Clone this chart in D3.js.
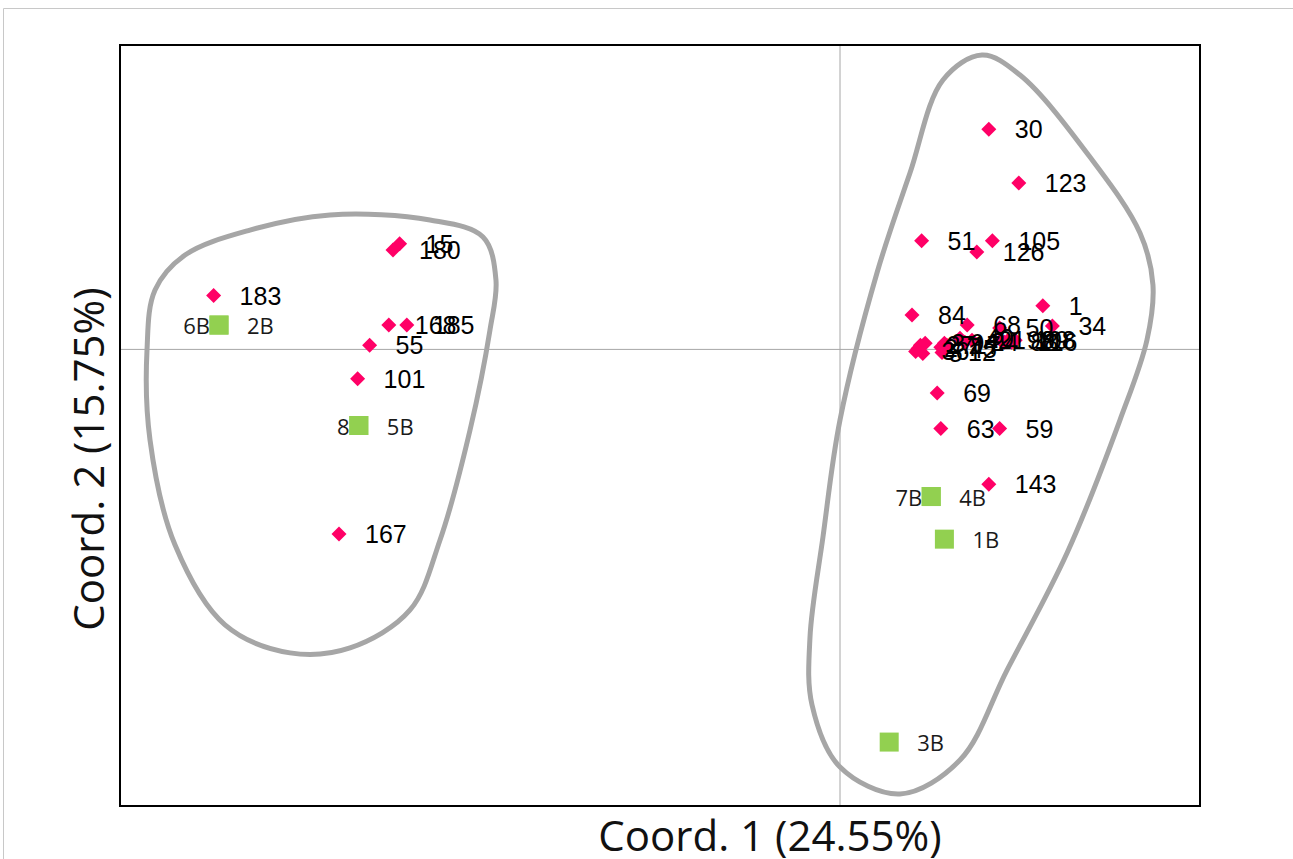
<!DOCTYPE html>
<html lang="en">
<head>
<meta charset="UTF-8">
<title>PCoA</title>
<style>
  html, body { margin: 0; padding: 0; background: #fff; }
  svg { display: block; }
</style>
</head>
<body>
<script src="https://cdn.jsdelivr.net/npm/d3@7"></script>
<script>
// sample points (red diamonds): label, coord1, coord2
var sampleLabels = ["15", "180", "183", "168", "185", "55", "101", "167",
  "30", "123", "51", "105", "126", "1", "34", "84", "69", "63", "59", "143",
  "68", "50", "2", "5", "27", "12", "94", "7", "40", "24", "21", "98", "88", "108", "116", "99", "3", "17", "36", "45"];
var sampleX = [-0.367, -0.3725, -0.522, -0.376, -0.361, -0.392, -0.402, -0.4175,
  0.124, 0.149, 0.068, 0.127, 0.114, 0.169, 0.177, 0.060, 0.081, 0.084, 0.133, 0.124,
  0.106, 0.133, 0.065, 0.069, 0.067, 0.085, 0.087, 0.084, 0.100, 0.104, 0.110, 0.134, 0.137, 0.140, 0.143, 0.146, 0.071, 0.089, 0.063, 0.086];
var sampleY = [0.104, 0.098, 0.053, 0.024, 0.024, 0.004, -0.029, -0.182,
  0.217, 0.164, 0.107, 0.107, 0.096, 0.043, 0.023, 0.034, -0.043, -0.078, -0.078, -0.133,
  0.024, 0.021, 0.001, -0.004, 0.004, -0.003, 0.006, 0.002, 0.011, 0.007, 0.009, 0.009, 0.007, 0.009, 0.007, 0.009, 0.006, 0.004, -0.002, 0.000];

// reference points (green squares): label, side of label, coord1, coord2
var refLabels = ["2B", "6B", "5B", "8B", "4B", "7B", "1B", "3B"];
var refSide = ["right", "left", "right", "hidden", "right", "left", "right", "right"];
var refX = [-0.5175, -0.5175, -0.401, -0.401, 0.076, 0.076, 0.087, 0.041];
var refY = [0.024, 0.024, -0.075, -0.075, -0.145, -0.145, -0.187, -0.387];

// group outlines
var hullLeftX = [-0.425, -0.3417, -0.2975, -0.2867, -0.2917, -0.3083, -0.3333, -0.3583, -0.4083, -0.4583, -0.5125, -0.5542, -0.575, -0.5775, -0.5708, -0.5458, -0.4917];
var hullLeftY = [0.1325, 0.1275, 0.1108, 0.0684, 0.0191, -0.0794, -0.1878, -0.2568, -0.2942, -0.2991, -0.2715, -0.1926, -0.0891, -0.0006, 0.0585, 0.0930, 0.1176];
var hullRightX = [0.1183, 0.15, 0.2083, 0.25, 0.2608, 0.2558, 0.2333, 0.1892, 0.1392, 0.1, 0.05, 0, -0.0233, -0.025, -0.0142, 0, 0.0308, 0.0583, 0.0858];
var hullRightY = [0.2901, 0.2704, 0.1896, 0.1147, 0.0635, 0.0093, -0.0696, -0.2007, -0.3160, -0.4047, -0.4382, -0.4116, -0.3505, -0.2835, -0.1849, -0.0696, 0.0753, 0.1738, 0.2655];

var W = 1293, H = 859;
var plot = { left: 120, top: 45, right: 1200, bottom: 806 };

var svg = d3.select('body').append('svg').attr('width', W).attr('height', H);

// outer frame
svg.append('path').attr('d', 'M3.5,' + H + 'V8.5H' + W).attr('fill', 'none').attr('stroke', '#c8c8c8').attr('stroke-width', 1);

var x = d3.scaleLinear().domain([-0.6, 0.3]).range([plot.left, plot.right]);
var y = d3.scaleLinear().domain([-0.45, 0.3]).range([plot.bottom, plot.top]);

// zero lines
svg.append('line').attr('x1', x(0)).attr('x2', x(0)).attr('y1', plot.top).attr('y2', plot.bottom).attr('stroke', '#a6a6a6').attr('stroke-width', 1);
svg.append('line').attr('x1', plot.left).attr('x2', plot.right).attr('y1', y(0)).attr('y2', y(0)).attr('stroke', '#a6a6a6').attr('stroke-width', 1);

// hulls
var line = d3.line().x(function (d) { return x(d[0]); }).y(function (d) { return y(d[1]); }).curve(d3.curveCatmullRomClosed.alpha(0.5));
svg.append('path').attr('d', line(d3.zip(hullLeftX, hullLeftY))).attr('fill', 'none').attr('stroke', '#a6a6a6').attr('stroke-width', 5);
svg.append('path').attr('d', line(d3.zip(hullRightX, hullRightY))).attr('fill', 'none').attr('stroke', '#a6a6a6').attr('stroke-width', 5);

// diamonds
var samples = sampleLabels.map(function (l, i) { return { label: l, x: sampleX[i], y: sampleY[i] }; });
var g = svg.append('g');
g.selectAll('path.pt').data(samples).enter().append('path')
  .attr('class', 'pt')
  .attr('d', 'M0,-7.5L7.5,0L0,7.5L-7.5,0Z')
  .attr('transform', function (d) { return 'translate(' + x(d.x) + ',' + y(d.y) + ')'; })
  .attr('fill', '#ff0066');
g.selectAll('text.pt').data(samples).enter().append('text')
  .attr('x', function (d) { return x(d.x) + 26; })
  .attr('y', function (d) { return y(d.y) + 9; })
  .attr('font-family', 'Liberation Sans, Arial, sans-serif')
  .attr('font-size', 25)
  .attr('fill', '#000')
  .text(function (d) { return d.label; });

// squares (labels first so a hidden label sits under its square)
var refs = refLabels.map(function (l, i) { return { label: l, side: refSide[i], x: refX[i], y: refY[i] }; });
g.selectAll('text.ref').data(refs).enter().append('text')
  .attr('x', function (d) {
    if (d.side === 'right') return x(d.x) + 28;
    if (d.side === 'left') return x(d.x) - 9;
    return x(d.x) + 5;
  })
  .attr('y', function (d) { return y(d.y) + 9; })
  .attr('text-anchor', function (d) { return d.side === 'right' ? 'start' : 'end'; })
  .attr('font-family', 'Open Sans, sans-serif')
  .attr('font-size', 22)
  .attr('fill', '#1a1a1a')
  .text(function (d) { return d.label; });
g.selectAll('rect.ref').data(refs).enter().append('rect')
  .attr('x', function (d) { return x(d.x) - 9.5; })
  .attr('y', function (d) { return y(d.y) - 9.5; })
  .attr('width', 19).attr('height', 19)
  .attr('fill', '#92d050');

// plot border
svg.append('rect').attr('x', plot.left).attr('y', plot.top)
  .attr('width', plot.right - plot.left).attr('height', plot.bottom - plot.top)
  .attr('fill', 'none').attr('stroke', '#000').attr('stroke-width', 2);

// axis titles
svg.append('text').attr('x', 770).attr('y', 851).attr('text-anchor', 'middle')
  .attr('font-family', 'Open Sans, sans-serif').attr('font-size', 42).attr('fill', '#111')
  .text('Coord. 1 (24.55%)');
svg.append('text').attr('transform', 'translate(104,459) rotate(-90)').attr('text-anchor', 'middle')
  .attr('font-family', 'Open Sans, sans-serif').attr('font-size', 42).attr('fill', '#111')
  .text('Coord. 2 (15.75%)');
</script>
</body>
</html>
